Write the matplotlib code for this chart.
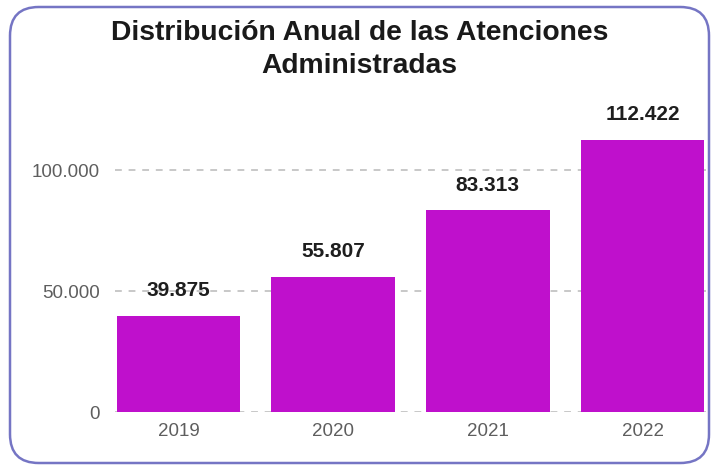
import matplotlib
matplotlib.use("Agg")
import matplotlib.pyplot as plt
from matplotlib.patches import FancyBboxPatch

years = ["2019", "2020", "2021", "2022"]
values = [39875, 55807, 83313, 112422]
value_labels = ["39.875", "55.807", "83.313", "112.422"]
ytick_values = [0, 50000, 100000]
ytick_labels = ["0", "50.000", "100.000"]

plt.rcParams['font.family'] = ['Liberation Sans', 'DejaVu Sans']

W, H = 719, 469
fig = plt.figure(figsize=(W / 100, H / 100), dpi=100)
fig.patch.set_facecolor("white")

# rounded border
border = FancyBboxPatch((10 / W, 6 / H), (W - 20) / W, (H - 13) / H,
                        boxstyle="round,pad=0,rounding_size=0.04",
                        transform=fig.transFigure, facecolor="none",
                        edgecolor="#7575c4", linewidth=1.8, mutation_aspect=W / H,
                        zorder=-1)
fig.patches.append(border)

ax_left, ax_right = 115, 706
ax_bottom, ax_top = 412, 130
ax = fig.add_axes([ax_left / W, 1 - ax_bottom / H, (ax_right - ax_left) / W, (ax_bottom - ax_top) / H])
ax.set_facecolor("none")

x = list(range(len(years)))
bars = ax.bar(x, values, width=0.8, color="#bf10cc", zorder=2)
ax.set_xlim(-0.41, 3.41)
ax.set_ylim(0, 100000 * (ax_bottom - ax_top) / 242)

ax.set_yticks(ytick_values)
ax.set_yticklabels(ytick_labels)
ax.set_xticks(x)
ax.set_xticklabels(years)
for yv in ytick_values:
    ax.axhline(yv, color="#c8c8c8", linewidth=1.4, linestyle=(0, (3.5, 3.5)), zorder=1)

for s in ax.spines.values():
    s.set_visible(False)
ax.tick_params(axis="both", length=0, labelsize=13.5, labelcolor="#5e5e5e")
ax.tick_params(axis="y", pad=11)
ax.tick_params(axis="x", pad=8)

for xi, v, lab in zip(x, values, value_labels):
    ax.annotate(lab, (xi, v), xytext=(0, 18), textcoords="offset points",
                ha="center", va="center", fontsize=15, fontweight="bold", color="#1e1e1e")

fig.text(0.5, 1 - 49.5 / H, "Distribución Anual de las Atenciones\nAdministradas",
         ha="center", va="center", fontsize=20.3, fontweight="bold", color="#1a1a1a",
         linespacing=1.33)

fig.savefig("out.png", dpi=100, facecolor="white")
